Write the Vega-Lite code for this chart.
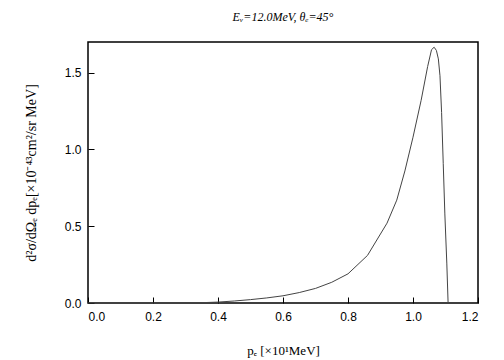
{
  "$schema": "https://vega.github.io/schema/vega-lite/v6.json",
  "width": 390,
  "height": 261,
  "autosize": "none",
  "padding": {"left": 88, "top": 42, "right": 26, "bottom": 57},
  "config": {
    "view": {"stroke": "black", "strokeWidth": 1.5}
  },
  "title": {"text": "Eᵥ=12.0MeV, θₑ=45°", "font": "Liberation Serif", "fontStyle": "italic", "fontWeight": "normal", "fontSize": 12, "color": "black", "anchor": "middle", "offset": 18},
  "data": {"values": [
    {"p": 0.0, "s": 0.0},
    {"p": 0.30, "s": 0.0},
    {"p": 0.35, "s": 0.002},
    {"p": 0.40, "s": 0.006},
    {"p": 0.45, "s": 0.013},
    {"p": 0.50, "s": 0.022},
    {"p": 0.55, "s": 0.033},
    {"p": 0.60, "s": 0.047},
    {"p": 0.65, "s": 0.068},
    {"p": 0.70, "s": 0.095},
    {"p": 0.75, "s": 0.135},
    {"p": 0.80, "s": 0.19},
    {"p": 0.86, "s": 0.31},
    {"p": 0.92, "s": 0.52},
    {"p": 0.95, "s": 0.67},
    {"p": 0.975, "s": 0.86},
    {"p": 1.00, "s": 1.08},
    {"p": 1.025, "s": 1.32},
    {"p": 1.045, "s": 1.54},
    {"p": 1.057, "s": 1.65},
    {"p": 1.065, "s": 1.666},
    {"p": 1.072, "s": 1.645},
    {"p": 1.078, "s": 1.59},
    {"p": 1.083, "s": 1.48},
    {"p": 1.088, "s": 1.24},
    {"p": 1.093, "s": 0.91},
    {"p": 1.098, "s": 0.58},
    {"p": 1.104, "s": 0.26},
    {"p": 1.108, "s": 0.0}
  ]},
  "mark": {"type": "line", "color": "#444444", "strokeWidth": 1},
  "encoding": {
    "x": {"field": "p", "type": "quantitative", "scale": {"domain": [0, 1.2], "nice": false}, "axis": {"grid": false, "domain": false, "tickColor": "black", "tickWidth": 1, "tickSize": -6, "tickCount": 6, "labelPadding": 14, "labelFont": "Liberation Sans", "labelFontSize": 12, "labelColor": "black", "title": "pₑ [×10¹MeV]", "titleFont": "Liberation Serif", "titleFontWeight": "normal", "titleFontSize": 13, "titleColor": "black", "titlePadding": 22}},
    "y": {"field": "s", "type": "quantitative", "scale": {"domain": [0, 1.7], "nice": false}, "axis": {"grid": false, "domain": false, "tickColor": "black", "tickWidth": 1, "tickSize": -6, "tickCount": 4, "labelPadding": 13, "labelFont": "Liberation Sans", "labelFontSize": 12, "labelColor": "black", "title": "d²σ/dΩₑ dpₑ[×10⁻⁴³cm²/sr MeV]", "titleFont": "Liberation Serif", "titleFontWeight": "normal", "titleFontSize": 14, "titleColor": "black", "titlePadding": 26}}
  }
}
